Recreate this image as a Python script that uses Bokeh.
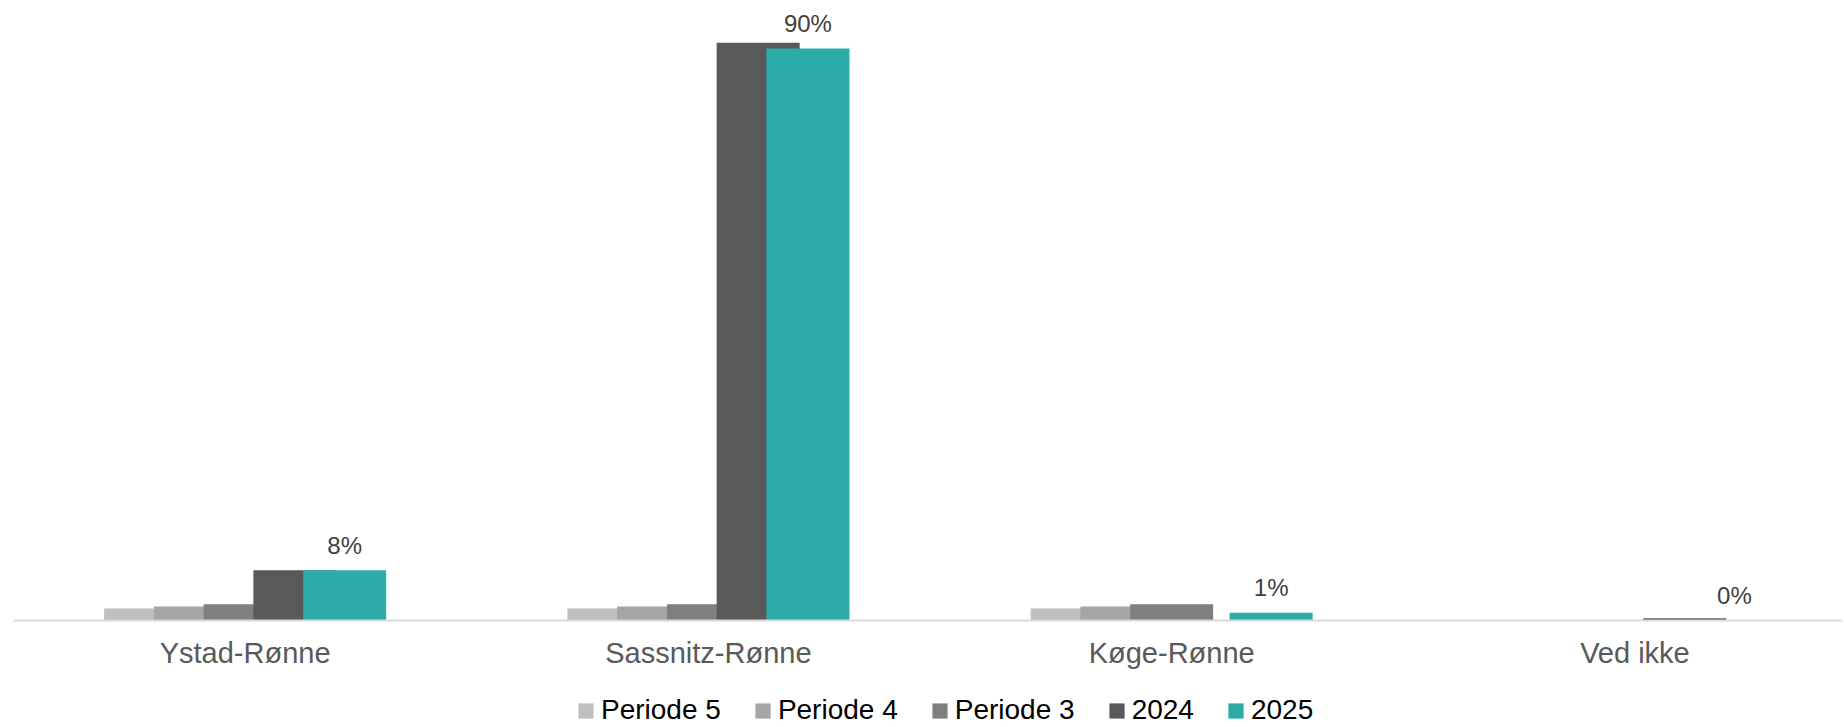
from bokeh.plotting import figure
from bokeh.models import ColumnDataSource, Range1d, FixedTicker, Legend, LegendItem
from bokeh.transform import dodge
from bokeh.embed import file_html
from bokeh.resources import INLINE
from bokeh.core.properties import value

# ---- data ----
categories = ["Ystad-Rønne", "Sassnitz-Rønne", "Køge-Rønne", "Ved ikke"]
series_names = ["Periode 5", "Periode 4", "Periode 3", "2024", "2025"]
periode5 = [1.9, 1.9, 1.9, 0.0]
periode4 = [2.2, 2.2, 2.2, 0.0]
periode3 = [2.55, 2.55, 2.55, 0.0]
y2024 = [7.9, 90.9, 0.0, 0.35]
y2025 = [7.9, 90.0, 1.2, 0.0]

colors = ["#BFBFBF", "#A5A5A5", "#7F7F7F", "#595959", "#2BACA9"]
FONT = "Liberation Sans"

cols = ["p5", "p4", "p3", "y24", "y25"]
src = ColumnDataSource(dict(
    x=list(range(len(categories))),
    p5=periode5, p4=periode4, p3=periode3, y24=y2024, y25=y2025,
    lab=[f"{round(v)}%" for v in y2025],
))

# frame spans the full height; the category axis sits at y = 0 inside it
p = figure(width=1842, height=726,
           x_range=Range1d(-0.5, 3.448), y_range=Range1d(-16.68, 96.3),
           output_backend="svg", toolbar_location=None,
           min_border_left=13, min_border_right=0, min_border_top=8,
           min_border_bottom=0)

offsets = [-0.2148, -0.1074, 0.0, 0.1074, 0.2148]
bar_w = 0.1792
renderers = []
for i, c in enumerate(cols):
    r = p.vbar(x=dodge("x", offsets[i], range=p.x_range), top=c, bottom=0, width=bar_w,
               source=src, fill_color=colors[i], line_color=None)
    renderers.append(r)

p.text(x=dodge("x", offsets[4], range=p.x_range), y="y25", text="lab", source=src,
       text_align="center", text_baseline="alphabetic", y_offset=-25,
       text_font_size="24px", text_color="#404040", text_font=value(FONT))

xa = p.xaxis[0]
xa.fixed_location = 0
xa.ticker = FixedTicker(ticks=list(range(len(categories))))
xa.major_label_overrides = {i: c for i, c in enumerate(categories)}
xa.major_label_standoff = 17
xa.major_tick_out = 0
xa.major_tick_in = 0
xa.major_tick_line_color = None
xa.minor_tick_line_color = None
xa.axis_line_color = "#D9D9D9"
xa.axis_line_width = 2
xa.major_label_text_font = FONT
xa.major_label_text_font_size = "29px"
xa.major_label_text_color = "#595959"

p.yaxis.visible = False
p.xgrid.visible = False
p.ygrid.visible = False
p.outline_line_color = None

legend = Legend(items=[LegendItem(label=n, renderers=[r]) for n, r in zip(series_names, renderers)],
                orientation="horizontal", location=(563, 0),
                glyph_width=19, glyph_height=19, label_standoff=6, spacing=32,
                padding=0, margin=0, border_line_color=None, background_fill_alpha=0,
                label_text_font=FONT, label_text_font_size="28px", label_text_color="black")
p.add_layout(legend)

open("out.html", "w").write(file_html(p, INLINE))
